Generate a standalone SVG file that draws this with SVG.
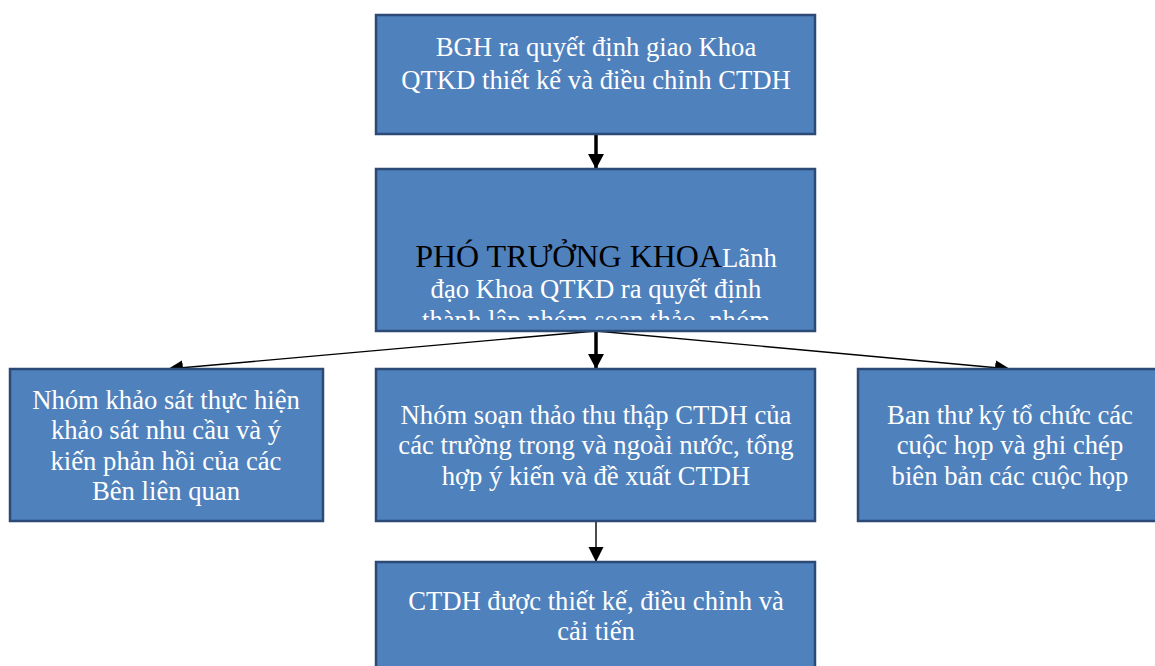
<svg xmlns="http://www.w3.org/2000/svg" width="1155" height="666" viewBox="0 0 1155 666">
  <style>
    .box { fill: #4F81BD; stroke: #2C4A76; stroke-width: 2.5; }
    .lbl { font-family: "Liberation Serif", "Times New Roman", serif; font-size: 26.67px; fill: #FFFFFF; text-anchor: middle; }
    .head { font-size: 32px; fill: #000000; }
    .thick { stroke: #000000; stroke-width: 3.5; fill: none; }
    .thin { stroke: #000000; stroke-width: 1.4; fill: none; }
  </style>
  <defs>
    <marker id="arrowThick" markerUnits="userSpaceOnUse" markerWidth="16" markerHeight="16" refX="15" refY="8" orient="auto">
      <path d="M0,0 L15,8 L0,16 Z" fill="#000000"/>
    </marker>
    <marker id="arrowThin" markerUnits="userSpaceOnUse" markerWidth="16" markerHeight="16" refX="15" refY="7.5" orient="auto">
      <path d="M0,0 L15,7.5 L0,15 Z" fill="#000000"/>
    </marker>
    <clipPath id="clipLead">
      <rect x="377" y="170" width="437" height="150"/>
    </clipPath>
  </defs>

  <rect width="1155" height="666" fill="#FFFFFF"/>

  <g id="connectors">
    <line class="thick" x1="596" y1="134" x2="596" y2="169" marker-end="url(#arrowThick)"/>
    <line class="thick" x1="596" y1="331" x2="596" y2="369" marker-end="url(#arrowThick)"/>
    <line class="thin" x1="596" y1="331" x2="168" y2="369" marker-end="url(#arrowThin)"/>
    <line class="thin" x1="596" y1="331" x2="1010" y2="369" marker-end="url(#arrowThin)"/>
    <line class="thin" x1="596" y1="521" x2="596" y2="562" marker-end="url(#arrowThin)"/>
  </g>

  <g id="node-bgh">
    <rect class="box" x="376" y="15" width="439" height="119"/>
    <text class="lbl" x="596" y="56">BGH ra quyết định giao Khoa</text>
    <text class="lbl" x="596" y="89">QTKD thiết kế và điều chỉnh CTDH</text>
  </g>

  <g id="node-lead">
    <rect class="box" x="376" y="169" width="439" height="162"/>
    <g clip-path="url(#clipLead)">
      <text class="lbl" x="596" y="267"><tspan class="head">PHÓ TRƯỞNG KHOA</tspan>Lãnh</text>
      <text class="lbl" x="596" y="298">đạo Khoa QTKD ra quyết định</text>
      <text class="lbl" x="596" y="329">thành lập nhóm soạn thảo, nhóm</text>
    </g>
  </g>

  <g id="node-survey">
    <rect class="box" x="10" y="369" width="313" height="152"/>
    <text class="lbl" x="166" y="409">Nhóm khảo sát thực hiện</text>
    <text class="lbl" x="166" y="439">khảo sát nhu cầu và ý</text>
    <text class="lbl" x="166" y="470">kiến phản hồi của các</text>
    <text class="lbl" x="166" y="500">Bên liên quan</text>
  </g>

  <g id="node-draft">
    <rect class="box" x="376" y="369" width="439" height="152"/>
    <text class="lbl" x="596" y="424">Nhóm soạn thảo thu thập CTDH của</text>
    <text class="lbl" x="596" y="454">các trường trong và ngoài nước, tổng</text>
    <text class="lbl" x="596" y="485">hợp ý kiến và đề xuất CTDH</text>
  </g>

  <g id="node-secretary">
    <rect class="box" x="858" y="369" width="304" height="152"/>
    <text class="lbl" x="1010" y="424">Ban thư ký tổ chức các</text>
    <text class="lbl" x="1010" y="454">cuộc họp và ghi chép</text>
    <text class="lbl" x="1010" y="485">biên bản các cuộc họp</text>
  </g>

  <g id="node-result">
    <rect class="box" x="376" y="562" width="439" height="120"/>
    <text class="lbl" x="596" y="610">CTDH được thiết kế, điều chỉnh và</text>
    <text class="lbl" x="596" y="640">cải tiến</text>
  </g>
</svg>
